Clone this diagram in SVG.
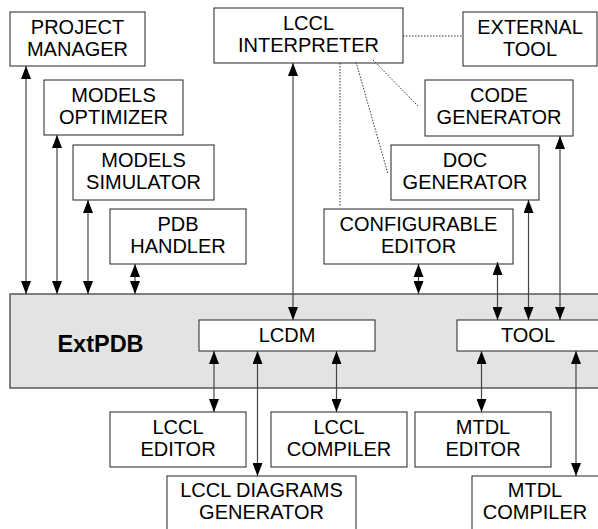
<svg xmlns="http://www.w3.org/2000/svg" width="598" height="529" viewBox="0 0 598 529">
  <defs>
    <marker id="ah" viewBox="0 0 13 10" refX="13" refY="5" markerWidth="13" markerHeight="10" markerUnits="userSpaceOnUse" orient="auto-start-reverse">
      <path d="M0,0 L13,5 L0,10 z" fill="#000"/>
    </marker>
  </defs>
  <style>
    .box { fill: #fff; stroke: #222; stroke-width: 1; }
    .db { fill: #e3e3e3; stroke: #333; stroke-width: 1.2; }
    .t { font-family: "Liberation Sans", Arial, sans-serif; font-size: 20px; fill: #000; text-anchor: middle; }
    .big { font-family: "Liberation Sans", Arial, sans-serif; font-size: 23.5px; font-weight: bold; fill: #000; text-anchor: middle; }
    .link { stroke: #444; stroke-width: 1.2; fill: none; marker-start: url(#ah); marker-end: url(#ah); }
    .dot { stroke: #333; stroke-width: 1; fill: none; stroke-dasharray: 1.5 1.5; }
  </style>

  <!-- repository with its two inner models -->
  <g id="extpdb">
    <rect class="db" x="10" y="294" width="592" height="94"/>
    <text class="big" x="100.5" y="352">ExtPDB</text>
  </g>
  <g id="lcdm">
    <rect class="box" x="199" y="320" width="176" height="31"/>
    <text class="t" x="287" y="342">LCDM</text>
  </g>
  <g id="tool">
    <rect class="box" x="457" y="320" width="145" height="31"/>
    <text class="t" x="528" y="342">TOOL</text>
  </g>

  <!-- upper tools -->
  <g id="project-manager">
    <rect class="box" x="10" y="12" width="135" height="54"/>
    <text class="t" x="77.5" y="34">PROJECT</text>
    <text class="t" x="77.5" y="56">MANAGER</text>
  </g>
  <g id="models-optimizer">
    <rect class="box" x="44" y="80" width="139" height="55"/>
    <text class="t" x="113.5" y="102">MODELS</text>
    <text class="t" x="113.5" y="124">OPTIMIZER</text>
  </g>
  <g id="models-simulator">
    <rect class="box" x="73" y="145" width="141" height="55"/>
    <text class="t" x="143.5" y="167">MODELS</text>
    <text class="t" x="143.5" y="189">SIMULATOR</text>
  </g>
  <g id="pdb-handler">
    <rect class="box" x="110" y="209" width="136" height="55"/>
    <text class="t" x="178" y="231">PDB</text>
    <text class="t" x="178" y="253">HANDLER</text>
  </g>
  <g id="lccl-interpreter">
    <rect class="box" x="214" y="8" width="189" height="55"/>
    <text class="t" x="308.5" y="30">LCCL</text>
    <text class="t" x="308.5" y="52">INTERPRETER</text>
  </g>
  <g id="external-tool">
    <rect class="box" x="463" y="12" width="134" height="54"/>
    <text class="t" x="530" y="34">EXTERNAL</text>
    <text class="t" x="530" y="56">TOOL</text>
  </g>
  <g id="code-generator">
    <rect class="box" x="425" y="80" width="148" height="56"/>
    <text class="t" x="499" y="102">CODE</text>
    <text class="t" x="499" y="124">GENERATOR</text>
  </g>
  <g id="doc-generator">
    <rect class="box" x="391" y="145" width="148" height="55"/>
    <text class="t" x="465" y="167">DOC</text>
    <text class="t" x="465" y="189">GENERATOR</text>
  </g>
  <g id="configurable-editor">
    <rect class="box" x="324" y="209" width="189" height="55"/>
    <text class="t" x="418.5" y="231">CONFIGURABLE</text>
    <text class="t" x="418.5" y="253">EDITOR</text>
  </g>

  <!-- lower tools -->
  <g id="lccl-editor">
    <rect class="box" x="110" y="412" width="136" height="55"/>
    <text class="t" x="178" y="434">LCCL</text>
    <text class="t" x="178" y="456">EDITOR</text>
  </g>
  <g id="lccl-compiler">
    <rect class="box" x="271" y="412" width="136" height="55"/>
    <text class="t" x="339" y="434">LCCL</text>
    <text class="t" x="339" y="456">COMPILER</text>
  </g>
  <g id="mtdl-editor">
    <rect class="box" x="415" y="412" width="136" height="55"/>
    <text class="t" x="483" y="434">MTDL</text>
    <text class="t" x="483" y="456">EDITOR</text>
  </g>
  <g id="lccl-diagrams-generator">
    <rect class="box" x="167" y="476" width="189" height="60"/>
    <text class="t" x="261.5" y="497">LCCL DIAGRAMS</text>
    <text class="t" x="261.5" y="519">GENERATOR</text>
  </g>
  <g id="mtdl-compiler">
    <rect class="box" x="472" y="476" width="130" height="60"/>
    <text class="t" x="535" y="497">MTDL</text>
    <text class="t" x="535" y="519">COMPILER</text>
  </g>

  <!-- connectors -->
  <g id="connectors">
    <line class="link" x1="26" y1="66" x2="26" y2="294"/>
    <line class="link" x1="57" y1="135" x2="57" y2="294"/>
    <line class="link" x1="88" y1="200" x2="88" y2="294"/>
    <line class="link" x1="135" y1="264" x2="135" y2="294"/>
    <line class="link" x1="293" y1="63" x2="293" y2="320"/>
    <line class="link" x1="418.5" y1="264" x2="418.5" y2="294"/>
    <line class="link" x1="497.5" y1="262" x2="497.5" y2="320"/>
    <line class="link" x1="528.5" y1="200" x2="528.5" y2="320"/>
    <line class="link" x1="560" y1="136" x2="560" y2="320"/>
    <line class="link" x1="214" y1="351" x2="214" y2="412"/>
    <line class="link" x1="257.5" y1="351" x2="257.5" y2="476"/>
    <line class="link" x1="336.5" y1="351" x2="336.5" y2="412"/>
    <line class="link" x1="481.5" y1="351" x2="481.5" y2="412"/>
    <line class="link" x1="576" y1="351" x2="576" y2="476"/>

    <line class="dot" x1="403" y1="36" x2="463" y2="36"/>
    <line class="dot" x1="373" y1="60" x2="418" y2="106"/>
    <line class="dot" x1="356" y1="62" x2="388" y2="174"/>
    <line class="dot" x1="340" y1="63" x2="340" y2="206"/>
  </g>
</svg>
